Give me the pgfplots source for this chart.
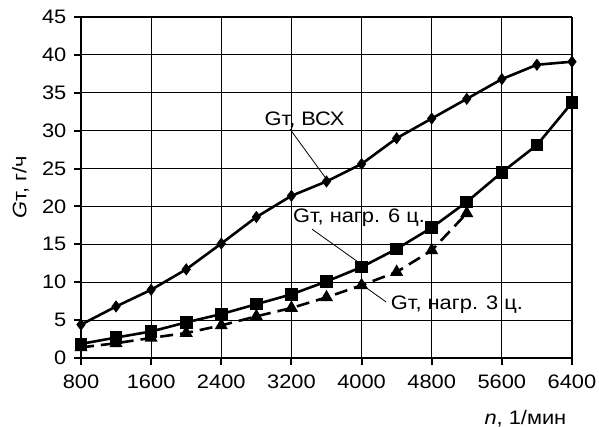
\documentclass[border=0pt]{standalone}
\usepackage{fontspec}
\setmainfont{Liberation Sans}[FakeStretch=1.12]
\usepackage{pgfplots}
\pgfplotsset{compat=1.18}
\begin{document}
\fontsize{19.5bp}{23bp}\selectfont
\begin{tikzpicture}
\useasboundingbox (-81bp,-69bp) rectangle (518bp,358bp);
\begin{axis}[at={(0,0)}, anchor=south west, scale only axis,
  width=491bp, height=341bp,
  xmin=800, xmax=6400, ymin=0, ymax=45,
  xtick={800,1600,...,6400}, ytick={0,5,...,45},
  grid=major, grid style={black, line width=1.1bp},
  axis x line=bottom, axis y line=left,
  axis line style={-, line width=2.8bp},
  tick align=outside, major tick length=7bp,
  tick style={black, line width=2bp},
  /pgf/number format/assume math mode=true,
  /pgf/number format/1000 sep={},
  tick label style={font=\fontsize{19.5bp}{23bp}\selectfont},
  xticklabel style={yshift=-3bp},
  yticklabel style={xshift=-1bp},
  label style={font=\fontsize{19.5bp}{23bp}\selectfont},
  xlabel={\textit{n}, 1/мин},
  xlabel style={at={(rel axis cs:1,0)}, anchor=base east, xshift=1bp, yshift=-66bp},
  ylabel={\textit{G}т, г/ч},
  clip=false,
]
\addplot[black, line width=2.6bp, mark=diamond*, mark size=4bp] coordinates {
(800,4.4) (1200,6.8) (1600,9.0) (2000,11.7) (2400,15.1) (2800,18.6) (3200,21.4)
(3600,23.3) (4000,25.6) (4400,29.0) (4800,31.6) (5200,34.2) (5600,36.8) (6000,38.7) (6400,39.1)};
\addplot[black, line width=2.6bp, mark=square*, mark size=5bp] coordinates {
(800,1.86) (1200,2.7) (1600,3.5) (2000,4.7) (2400,5.8) (2800,7.1) (3200,8.4)
(3600,10.1) (4000,12.0) (4400,14.4) (4800,17.2) (5200,20.6) (5600,24.5) (6000,28.1) (6400,33.7)};
\addplot[black, line width=2.6bp, dash pattern=on 13bp off 7bp, mark=triangle*, mark size=5bp,
  mark options={solid}] coordinates {
(800,1.4) (1200,1.95) (1600,2.65) (2000,3.3) (2400,4.3) (2800,5.5) (3200,6.6)
(3600,8.0) (4000,9.6) (4400,11.35) (4800,14.2) (5200,19.1)};
\node[font=\fontsize{19.5bp}{23bp}\selectfont] at (axis cs:3349,31.4) {Gт, ВСХ};
\draw[black, line width=0.8bp] (axis cs:3184,30.2) -- (axis cs:3606,23.5);
\node[font=\fontsize{19.5bp}{23bp}\selectfont] at (axis cs:3971,18.5) {Gт, нагр. 6 ц.};
\draw[black, line width=0.8bp] (axis cs:3435,17.0) -- (axis cs:4005,12.3);
\node[font=\fontsize{19.5bp}{23bp}\selectfont] at (axis cs:5088,7.0) {Gт, нагр. 3 ц.};
\draw[black, line width=0.8bp] (axis cs:4279,7.4) -- (axis cs:4050,9.3);
\end{axis}
\end{tikzpicture}
\end{document}
